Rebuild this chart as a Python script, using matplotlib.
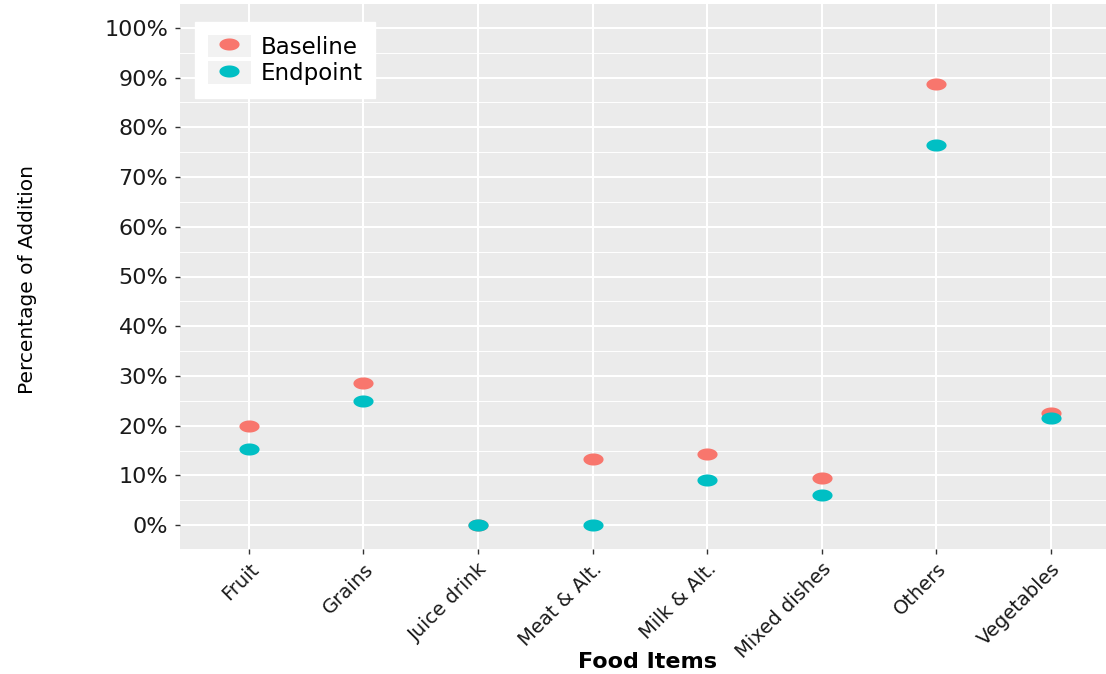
import matplotlib.pyplot as plt
import numpy as np
from matplotlib.path import Path
from matplotlib.lines import Line2D
from matplotlib.patches import Patch
from matplotlib.legend_handler import HandlerTuple
from matplotlib.ticker import FuncFormatter, MultipleLocator

# Data
categories = ['Fruit', 'Grains', 'Juice drink', 'Meat & Alt.', 'Milk & Alt.',
              'Mixed dishes', 'Others', 'Vegetables']
baseline = [0.200, 0.286, 0.0, 0.133, 0.143, 0.094, 0.887, 0.225]
endpoint = [0.153, 0.250, 0.0, 0.0, 0.091, 0.060, 0.765, 0.215]
y_ticks = [0.0, 0.1, 0.2, 0.3, 0.4, 0.5, 0.6, 0.7, 0.8, 0.9, 1.0]

col_base = '#F8766D'
col_end = '#00BFC4'

plt.rcParams['font.family'] = ['DejaVu Sans']

# the source image is stretched sideways, so the dots are ellipses
t = np.linspace(0, 2 * np.pi, 60)
ellipse = Path(np.column_stack([np.cos(t) * 0.5, np.sin(t) * 0.30]))

fig = plt.figure(figsize=(11.06, 6.74), dpi=100)
ax = fig.add_axes([180 / 1106, 125 / 674, 926 / 1106, 545 / 674])
ax.set_facecolor('#EBEBEB')

x = np.arange(len(categories))
ax.plot(x, baseline, linestyle='none', marker=ellipse, markersize=14.5,
        color=col_base, markeredgewidth=0, label='Baseline', zorder=3)
ax.plot(x, endpoint, linestyle='none', marker=ellipse, markersize=14.5,
        color=col_end, markeredgewidth=0, label='Endpoint', zorder=4)

ax.set_xlim(-0.6, 7.48)
ax.set_ylim(-0.048, 1.048)
ax.set_xticks(x)
ax.set_xticklabels(categories, rotation=45, ha='right', va='top',
                   rotation_mode='anchor', fontsize=14, color='#1a1a1a')
ax.set_yticks(y_ticks)
ax.yaxis.set_major_formatter(FuncFormatter(lambda v, p: f'{v * 100:.0f}%'))
ax.yaxis.set_minor_locator(MultipleLocator(0.05))
ax.tick_params(axis='y', labelsize=16, labelcolor='#1a1a1a', pad=5)
ax.tick_params(axis='x', pad=4)
ax.tick_params(which='major', length=3.5, width=1, color='#333333')
ax.tick_params(axis='y', which='minor', length=0)

ax.grid(True, which='major', color='white', linewidth=1.5)
ax.grid(True, which='minor', axis='y', color='white', linewidth=0.7)
ax.set_axisbelow(True)
for s in ax.spines.values():
    s.set_visible(False)

fig.text(648 / 1106, 1 - 662 / 674, 'Food Items', ha='center', va='center',
         fontsize=16, fontweight='bold', color='black')
fig.text(28 / 1106, 1 - 280 / 674, 'Percentage of Addition', ha='center',
         va='center', rotation=90, fontsize=14.5, fontweight='medium',
         color='black')

key_bg = Patch(facecolor='#F2F2F2', edgecolor='none')
h_base = Line2D([], [], linestyle='none', marker=ellipse, markersize=14.5,
                color=col_base, markeredgewidth=0)
h_end = Line2D([], [], linestyle='none', marker=ellipse, markersize=14.5,
               color=col_end, markeredgewidth=0)
leg = ax.legend([(key_bg, h_base), (key_bg, h_end)], ['Baseline', 'Endpoint'],
                handler_map={tuple: HandlerTuple(ndivide=1, pad=0)},
                loc='upper left', bbox_to_anchor=(15 / 926, 1 - 18 / 545),
                fontsize=16.5, frameon=True, fancybox=False, framealpha=1,
                edgecolor='white', facecolor='white', handlelength=1.9,
                handleheight=1.15, handletextpad=0.4, labelspacing=0.1,
                borderpad=0.55, borderaxespad=0)

fig.savefig('out.png', dpi=100)
